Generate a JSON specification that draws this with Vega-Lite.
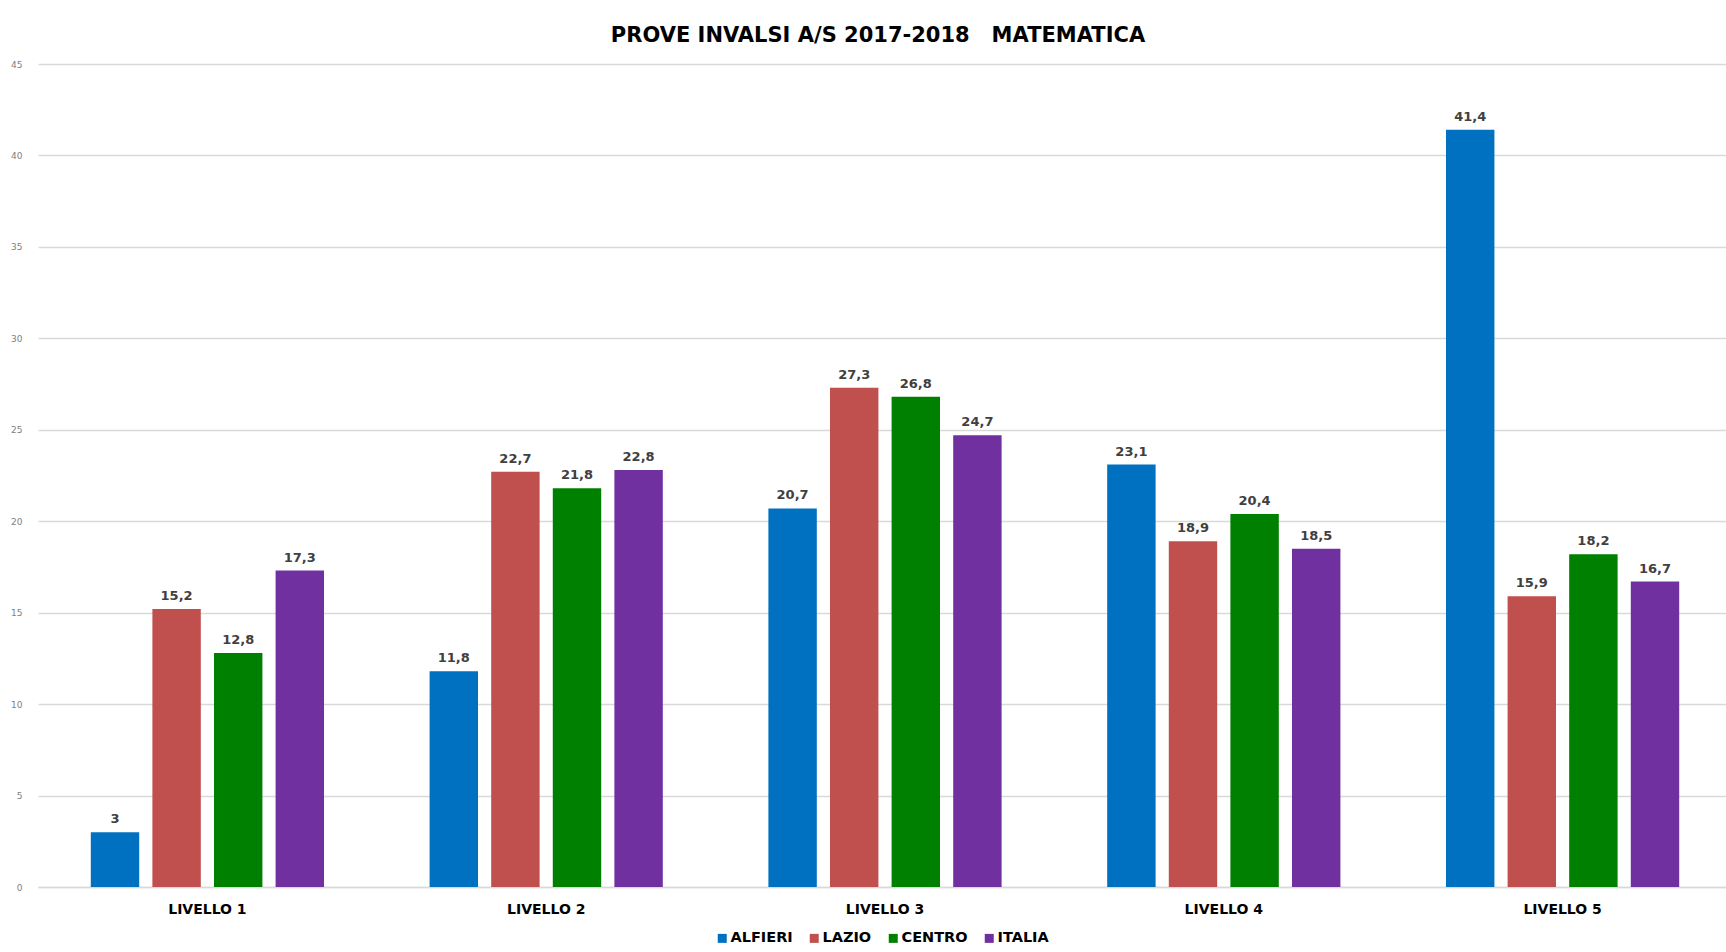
{
  "$schema": "https://vega.github.io/schema/vega-lite/v6.json",
  "width": 1688,
  "height": 823,
  "autosize": {"type": "none"},
  "padding": {"left": 38, "top": 64, "right": 0, "bottom": 65},
  "background": "white",
  "config": {
    "locale": {"number": {"decimal": ",", "thousands": ".", "grouping": [3], "currency": ["€", ""]}},
    "view": {"stroke": null},
    "font": "DejaVu Sans"
  },
  "title": {
    "text": "PROVE INVALSI A/S 2017-2018\u00a0\u00a0\u00a0MATEMATICA",
    "font": "DejaVu Sans",
    "fontSize": 21,
    "fontWeight": "bold",
    "color": "#000000",
    "anchor": "middle",
    "baseline": "alphabetic",
    "offset": -3,
    "dx": -4
  },
  "data": {
    "values": [
      {"livello": "LIVELLO 1", "serie": "ALFIERI", "valore": 3},
      {"livello": "LIVELLO 1", "serie": "LAZIO", "valore": 15.2},
      {"livello": "LIVELLO 1", "serie": "CENTRO", "valore": 12.8},
      {"livello": "LIVELLO 1", "serie": "ITALIA", "valore": 17.3},
      {"livello": "LIVELLO 2", "serie": "ALFIERI", "valore": 11.8},
      {"livello": "LIVELLO 2", "serie": "LAZIO", "valore": 22.7},
      {"livello": "LIVELLO 2", "serie": "CENTRO", "valore": 21.8},
      {"livello": "LIVELLO 2", "serie": "ITALIA", "valore": 22.8},
      {"livello": "LIVELLO 3", "serie": "ALFIERI", "valore": 20.7},
      {"livello": "LIVELLO 3", "serie": "LAZIO", "valore": 27.3},
      {"livello": "LIVELLO 3", "serie": "CENTRO", "valore": 26.8},
      {"livello": "LIVELLO 3", "serie": "ITALIA", "valore": 24.7},
      {"livello": "LIVELLO 4", "serie": "ALFIERI", "valore": 23.1},
      {"livello": "LIVELLO 4", "serie": "LAZIO", "valore": 18.9},
      {"livello": "LIVELLO 4", "serie": "CENTRO", "valore": 20.4},
      {"livello": "LIVELLO 4", "serie": "ITALIA", "valore": 18.5},
      {"livello": "LIVELLO 5", "serie": "ALFIERI", "valore": 41.4},
      {"livello": "LIVELLO 5", "serie": "LAZIO", "valore": 15.9},
      {"livello": "LIVELLO 5", "serie": "CENTRO", "valore": 18.2},
      {"livello": "LIVELLO 5", "serie": "ITALIA", "valore": 16.7}
    ]
  },
  "encoding": {
    "x": {
      "field": "livello",
      "type": "nominal",
      "sort": ["LIVELLO 1", "LIVELLO 2", "LIVELLO 3", "LIVELLO 4", "LIVELLO 5"],
      "scale": {"range": [0, 1694], "paddingInner": 0, "paddingOuter": 0},
      "axis": {
        "title": null,
        "labelAngle": 0,
        "labelFont": "DejaVu Sans",
        "labelFontSize": 14,
        "labelFontWeight": "bold",
        "labelColor": "#000000",
        "labelPadding": 15,
        "ticks": false,
        "domainColor": "#d9d9d9",
        "domainWidth": 1.3,
        "grid": false
      }
    },
    "xOffset": {
      "field": "serie",
      "type": "nominal",
      "sort": ["ALFIERI", "LAZIO", "CENTRO", "ITALIA"],
      "scale": {"paddingInner": 0.214, "paddingOuter": 0.857}
    },
    "y": {
      "field": "valore",
      "type": "quantitative",
      "scale": {"domain": [0, 45], "nice": false},
      "axis": {
        "title": null,
        "values": [0, 5, 10, 15, 20, 25, 30, 35, 40, 45],
        "labelFont": "DejaVu Sans",
        "labelFontSize": 9,
        "labelColor": "#808080",
        "labelPadding": 16,
        "ticks": false,
        "domain": false,
        "gridColor": "#d9d9d9",
        "gridWidth": 1.3
      }
    },
    "color": {
      "field": "serie",
      "type": "nominal",
      "sort": ["ALFIERI", "LAZIO", "CENTRO", "ITALIA"],
      "scale": {
        "domain": ["ALFIERI", "LAZIO", "CENTRO", "ITALIA"],
        "range": ["#0070C0", "#C0504D", "#008000", "#7030A0"]
      },
      "legend": {
        "title": null,
        "orient": "none",
        "direction": "horizontal",
        "legendX": 677,
        "legendY": 867,
        "symbolType": "square",
        "symbolSize": 81,
        "symbolStrokeWidth": 0,
        "labelFont": "DejaVu Sans",
        "labelFontSize": 14.5,
        "labelFontWeight": "bold",
        "labelColor": "#000000",
        "labelOffset": 1,
        "columnPadding": 14
      }
    }
  },
  "layer": [
    {"mark": {"type": "bar"}},
    {
      "mark": {
        "type": "text",
        "baseline": "alphabetic",
        "dy": -9,
        "font": "DejaVu Sans",
        "fontSize": 13,
        "fontWeight": "bold",
        "color": "#404040"
      },
      "encoding": {
        "text": {"field": "valore", "type": "quantitative", "format": ".1~f"},
        "color": {"value": "#404040"}
      }
    }
  ]
}
